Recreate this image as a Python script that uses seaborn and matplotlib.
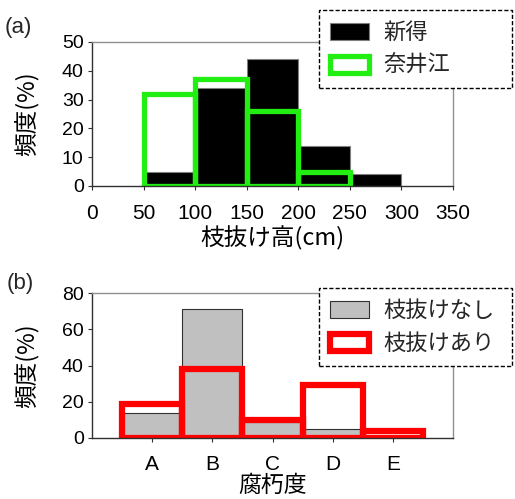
import numpy as np
import pandas as pd
import matplotlib
matplotlib.use("Agg")
import matplotlib.pyplot as plt
import matplotlib.patches as mpatches
import seaborn as sns

# ---- data ----
height_edges = [50, 100, 150, 200, 250, 300]
shintoku = [5, 34, 44, 14, 4]          # 新得
naie = [32, 37, 26, 5, 0]               # 奈井江
decay_cats = ["A", "B", "C", "D", "E"]
no_prune = [14, 71, 9, 5, 0]            # 枝抜けなし
prune = [19, 38, 10, 29, 4]             # 枝抜けあり

sns.set_theme(style="white")
JP = ["Noto Sans CJK JP", "DejaVu Sans"]
NUM = ["Liberation Sans", "DejaVu Sans"]
plt.rcParams["font.family"] = NUM

GREEN = "#22ee11"
fig = plt.figure(figsize=(5.15, 4.99), dpi=100)
W, H = 515, 499
def rect(l, t, r, b):
    return [l / W, 1 - b / H, (r - l) / W, (b - t) / H]

ax1 = fig.add_axes(rect(92, 42, 453, 186))
ax2 = fig.add_axes(rect(92, 293, 453, 438))

mids = [(height_edges[i] + height_edges[i + 1]) / 2 for i in range(len(shintoku))]
df_a = pd.DataFrame({"mid": mids, "s": shintoku, "n": naie})

sns.histplot(data=df_a, x="mid", weights="s", bins=height_edges, ax=ax1,
             color="black", edgecolor="#808080", linewidth=0.8, alpha=1)
sns.histplot(data=df_a[df_a["n"] > 0], x="mid", weights="n", bins=height_edges[:5], ax=ax1,
             fill=False, element="bars", color=GREEN, linewidth=3.8)

df_b = pd.DataFrame({"cat": decay_cats, "np": no_prune, "p": prune})
sns.barplot(data=df_b, x="cat", y="np", ax=ax2, color="#c0c0c0", saturation=1,
            edgecolor="#303030", linewidth=0.8, width=1.0)
sns.barplot(data=df_b, x="cat", y="p", ax=ax2, fill=False, color="red",
            edgecolor="red", linewidth=4.5, width=1.0)

def style_axes(ax):
    for s in ["top", "right"]:
        ax.spines[s].set_color("#909090")
        ax.spines[s].set_linewidth(1.0)
    for s in ["left", "bottom"]:
        ax.spines[s].set_color("#303030")
        ax.spines[s].set_linewidth(1.0)
        ax.spines[s].set_visible(True)
    ax.tick_params(axis="both", which="both", direction="out", length=3,
                   width=0.8, color="#303030", pad=3,
                   labelcolor="black", left=True, bottom=True)
    ax.tick_params(axis="y", labelsize=14)
    ax.tick_params(axis="x", labelsize=15)
    ax.grid(False)
    for lab in ax.get_xticklabels() + ax.get_yticklabels():
        lab.set_family(NUM)

ax1.set_xlim(0, 350)
ax1.set_ylim(0, 50)
ax1.set_xticks(range(0, 351, 50))
ax1.set_yticks(range(0, 51, 10))
style_axes(ax1)
ax1.tick_params(axis="x", pad=10)
ax1.set_xlabel("枝抜け高(cm)", family=JP, fontsize=17, labelpad=2, color="black")
ax1.set_ylabel("頻度(%)", family=JP, fontsize=17, labelpad=16, color="black")

ax2.set_xlim(-1, 5)
ax2.set_ylim(0, 80)
ax2.set_yticks(range(0, 81, 20))
style_axes(ax2)
ax2.tick_params(axis="x", pad=9)
ax2.set_xlabel("腐朽度", family=JP, fontsize=16.5, labelpad=0, color="black")
ax2.set_ylabel("頻度(%)", family=JP, fontsize=17, labelpad=16, color="black")

fig.text(5 / W, 1 - 28 / H, "(a)", fontsize=16, family=NUM, va="center")
fig.text(7 / W, 1 - 284 / H, "(b)", fontsize=16, family=NUM, va="center")

def make_legend(handles, labels, box):
    l, t, r, b = box
    leg = fig.legend(handles, labels, loc="upper left", mode="expand",
                     bbox_to_anchor=(l / W, 1 - b / H, (r - l) / W, (b - t) / H),
                     prop={"family": JP, "size": 16},
                     frameon=True, fancybox=False, borderpad=0.5,
                     handlelength=1.75, handleheight=0.8, handletextpad=0.65,
                     labelspacing=0.45, borderaxespad=0)
    fr = leg.get_frame()
    fr.set_edgecolor("black")
    fr.set_linestyle((0, (3, 1.5)))
    fr.set_linewidth(1.0)
    fr.set_facecolor("white")
    fr.set_alpha(1)
    return leg

h1 = [mpatches.Patch(facecolor="black", edgecolor="#808080", linewidth=0.8),
      mpatches.Patch(facecolor="white", edgecolor=GREEN, linewidth=3.8)]
make_legend(h1, ["新得", "奈井江"], (319, 10, 512, 85))
h2 = [mpatches.Patch(facecolor="#c0c0c0", edgecolor="#303030", linewidth=0.8),
      mpatches.Patch(facecolor="white", edgecolor="red", linewidth=4.5)]
make_legend(h2, ["枝抜けなし", "枝抜けあり"], (319, 288, 512, 363))

fig.savefig("out.png", dpi=100)
